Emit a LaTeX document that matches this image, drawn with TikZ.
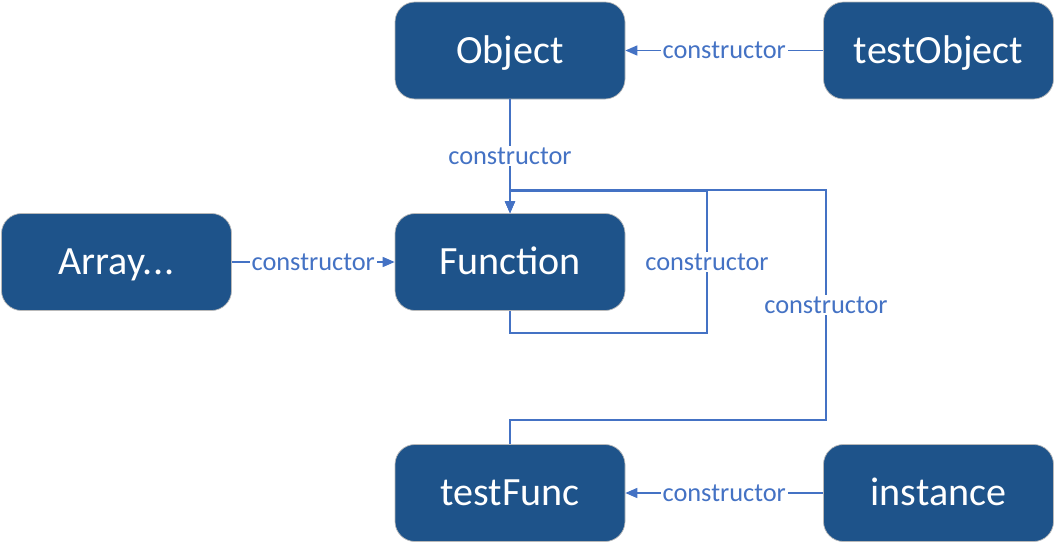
\documentclass[tikz,border=0pt]{standalone}
\usepackage{fontspec}
\setmainfont{Carlito}
\definecolor{protoblue}{RGB}{30,83,138}
\definecolor{linkblue}{RGB}{68,114,196}
\usetikzlibrary{arrows.meta,calc}

\begin{document}
\begin{tikzpicture}[
  protobox/.style={draw=gray!55,line width=0.4pt,fill=protoblue,text=white,rounded corners=0.4cm,
    minimum width=4.6cm,minimum height=1.94cm,text height=0.5cm,text depth=0pt,
    font=\fontsize{22.8}{26}\selectfont},
  link/.style={draw=linkblue,line width=0.9pt,-{Triangle[length=0.24cm,width=0.2cm]}},
  ctor/.style={fill=white,text=linkblue,inner sep=1pt,font=\fontsize{15}{18}\selectfont}
]
  \useasboundingbox (0,0) rectangle (21.1,-10.88);

  % the boxes
  \node[protobox] (object) at (10.2,-1.01) {Object};
  \node[protobox] (testobject) at (18.77,-1.01) {testObject};
  \node[protobox] (array) at (2.33,-5.24) {Array.\kern0.5pt.\kern0.5pt.};
  \node[protobox] (function) at (10.2,-5.24) {Function};
  \node[protobox] (testfunc) at (10.2,-9.86) {testFunc};
  \node[protobox] (instance) at (18.77,-9.86) {instance};

  % constructor links
  \draw[link] (testobject) -- node[ctor] {constructor} (object);
  \draw[link] (object) -- node[ctor] {constructor} (function);
  \draw[link] (array) -- node[ctor] {constructor} (function);
  \draw[link] (instance) -- node[ctor] {constructor} (testfunc);

  % Function points back to itself
  \draw[link] (function.south) -- ++(0,-0.44) -| node[ctor,pos=0.75] {constructor} ++(3.94,2.84)
    -| (function.north);
  % testFunc goes up to Function
  \draw[link] (testfunc.north) -- ++(0,0.48) -| node[ctor,pos=0.75] {constructor} ++(6.32,4.6)
    -| (function.north);
\end{tikzpicture}
\end{document}
